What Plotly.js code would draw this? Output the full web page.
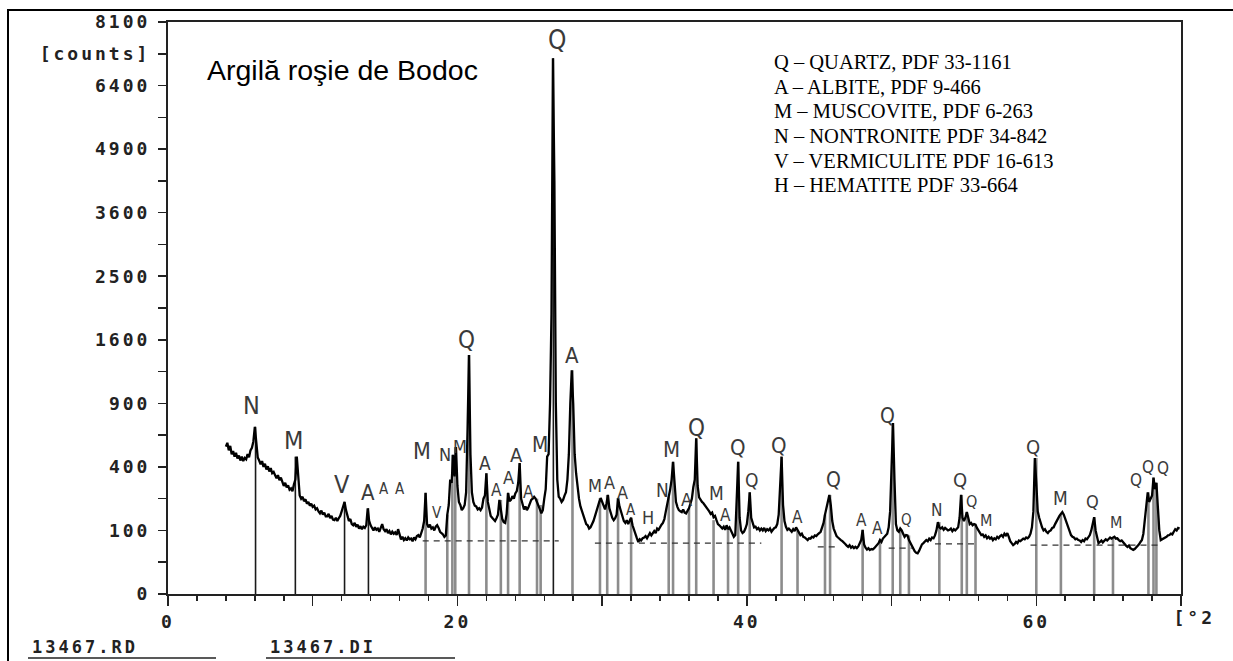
<!DOCTYPE html>
<html>
<head>
<meta charset="utf-8">
<script src="https://cdn.plot.ly/plotly-3.0.1.min.js"></script>
<style>
  html, body { margin: 0; padding: 0; background: #fff; }
  #chart { width: 1233px; height: 661px; }
  .xtick text, .ytick text { letter-spacing: 3px; font-weight: bold !important; }
</style>
</head>
<body>
<div id="chart"></div>
<script>
// ---- Data ----
const twoThetaStart = 4.0;   // first sampled angle (°2θ)
const twoThetaStep = 0.1;    // sampling step (°2θ)
// intensity in counts, one value per step from 4.0 to 69.9 °2θ
const counts = [
  538,566,511,543,484,506,467,493,454,475,
  441,467,437,458,449,484,462,511,529,576,
  692,576,462,441,416,437,400,420,384,404,
  372,392,361,369,346,331,350,320,335,306,
  289,306,282,292,269,276,262,296,324,467,
  306,240,225,234,213,222,202,210,193,202,
  188,193,177,182,169,161,172,156,164,149,
  149,159,142,151,137,135,144,132,142,151,
  169,185,210,174,151,132,139,121,117,125,
  112,119,106,114,104,112,108,117,182,132,
  117,108,100,110,102,106,96,108,121,104,
  98,104,92,98,88,96,90,94,86,104,
  85,74,81,72,77,71,79,74,76,69,
  79,74,83,86,79,90,106,132,253,121,
  110,119,106,110,100,112,117,108,96,92,
  88,81,85,156,196,324,306,480,342,534,
  289,210,196,174,182,196,256,676,1414,484,
  256,210,193,190,177,182,174,185,225,240,
  361,210,169,151,144,139,132,142,156,219,
  169,139,128,125,159,253,213,219,237,225,
  250,262,306,424,225,196,177,190,174,185,
  202,219,225,234,225,210,196,177,161,174,
  225,272,467,484,900,1936,7106,4225,900,324,
  234,225,210,219,240,256,324,484,900,1239,
  900,484,361,282,225,190,169,149,135,121,
  117,106,110,119,132,149,169,196,210,228,
  210,196,177,202,243,182,159,144,135,142,
  156,228,190,169,144,132,125,135,121,130,
  144,117,100,85,77,67,74,71,77,79,
  83,77,86,92,85,94,98,92,106,102,
  112,119,125,139,169,210,234,270,324,433,
  289,210,188,174,169,166,177,164,161,169,
  182,202,225,282,324,600,289,231,219,210,
  204,196,185,177,169,159,164,146,151,135,
  121,117,110,106,112,102,117,104,110,98,
  90,81,86,196,433,144,100,92,96,106,
  121,169,256,144,121,110,112,104,108,100,
  106,100,108,98,104,100,106,96,102,108,
  110,121,156,289,467,196,132,112,102,106,
  100,96,104,98,110,100,92,86,90,81,
  79,74,72,77,76,81,79,85,83,88,
  92,96,110,125,156,182,210,243,196,132,
  106,92,83,79,74,72,69,64,62,58,
  55,59,53,56,52,55,52,56,64,72,
  102,61,53,49,52,48,50,49,52,56,
  61,64,72,67,76,81,85,90,110,169,
  400,724,324,121,100,96,106,100,90,81,
  86,85,72,64,56,49,45,42,41,46,
  56,61,64,69,72,69,76,72,79,77,
  85,100,128,110,106,110,102,108,104,100,
  102,106,98,104,100,106,110,144,243,144,
  132,144,166,144,121,125,117,121,119,108,
  100,92,86,88,81,85,77,81,76,79,
  72,77,74,81,77,83,86,81,90,85,
  92,81,69,64,59,62,67,64,71,69,
  72,76,74,79,77,81,90,110,169,458,
  306,169,144,121,110,100,104,96,92,98,
  100,108,110,121,132,144,151,159,166,156,
  139,121,106,96,86,81,79,74,76,72,
  71,67,72,69,76,74,81,86,100,121,
  146,100,77,64,67,71,66,69,74,71,
  74,79,76,79,81,76,77,72,69,71,
  66,62,58,55,58,52,49,48,50,53,
  58,61,67,72,90,144,210,256,210,225,
  240,335,272,306,169,100,72,74,77,79,
  81,85,86,90,88,96,104,100,108,106
];

// reference lines (sticks) of identified phases
const stickPos = [6.05, 8.8, 12.2, 13.85, 17.8, 19.3, 19.65, 19.85, 20.8, 22.0, 23.0, 23.5, 24.3, 25.5, 25.75, 26.63, 27.95, 29.85, 30.35, 31.1, 32.0, 34.6, 34.9, 36.0, 36.5, 37.7, 38.7, 39.4, 40.2, 42.4, 43.5, 45.4, 45.75, 48.0, 49.2, 50.08, 50.6, 51.2, 53.3, 54.85, 55.2, 55.8, 60.0, 61.7, 64.0, 65.3, 67.75, 68.1, 68.3];
const stickCounts = [692, 467, 210, 182, 253, 156, 480, 534, 1414, 361, 219, 253, 424, 225, 196, 7106, 1239, 228, 243, 228, 144, 234, 433, 182, 600, 135, 110, 433, 256, 467, 98, 156, 243, 102, 72, 724, 106, 85, 128, 243, 166, 119, 458, 159, 146, 76, 256, 335, 306];

// background level segments (dashed)
const bgStart = [17.6, 29.5, 44.9, 49.8, 53.0, 59.6];
const bgEnd = [27.0, 41.0, 46.4, 51.4, 56.0, 68.6];
const bgCounts = [70, 64, 55, 52, 62, 59];

// peak letters
const peakLetter = ["N","M","V","A","A","A","M","V","N","M","Q","A","A","A","A","A","M","Q","A","M","A","A","A","H","N","M","A","Q","M","A","Q","Q","Q","A","Q","A","A","Q","Q","N","Q","Q","M","Q","M","Q","M","Q","Q","Q"];
const peakLetterX = [5.8, 8.7, 12.0, 13.8, 14.9, 16.0, 17.55, 18.6, 19.15, 20.15, 20.65, 21.9, 22.7, 23.5, 24.05, 24.9, 25.7, 26.9, 27.9, 29.5, 30.5, 31.4, 32.0, 33.2, 34.2, 34.8, 35.8, 36.55, 37.9, 38.55, 39.4, 40.3, 42.2, 43.5, 46.0, 47.95, 49.05, 49.7, 51.0, 53.1, 54.7, 55.55, 56.5, 59.8, 61.7, 63.9, 65.5, 66.9, 67.75, 68.75];
const peakLetterCounts = [882, 586, 299, 253, 272, 272, 506, 161, 480, 540, 1600, 424, 269, 335, 480, 256, 548, 7604, 1414, 289, 310, 256, 174, 146, 269, 515, 219, 681, 253, 154, 534, 320, 543, 146, 320, 135, 108, 784, 135, 174, 320, 210, 135, 534, 228, 210, 125, 320, 400, 392];
const peakLetterSize = [25, 25, 25, 22, 15, 15, 23, 15, 18, 18, 24, 19, 17, 18, 20, 17, 21, 26, 22, 18, 18, 18, 15, 18, 19, 22, 18, 24, 19, 17, 22, 19, 22, 17, 21, 17, 17, 21, 15, 17, 20, 16, 16, 20, 19, 18, 16, 17, 17, 17];

// axis labels
const yTickCounts = [0, 100, 400, 900, 1600, 2500, 3600, 4900, 6400, 8100];
const yTickLabels = ["0", "100", "400", "900", "1600", "2500", "3600", "4900", "6400", "8100"];
const yUnitLabel = "[counts]";
const yUnitAt = 7225;
const xTickVals = [0, 10, 20, 30, 40, 50, 60, 70];
const xTickLabels = ["0", "", "20", "", "40", "", "60", ""];
const xUnitLabel = "[°2";

const titleText = "Argilă roşie de Bodoc";
const legendLines = [
  "Q – QUARTZ, PDF 33-1161",
  "A – ALBITE, PDF 9-466",
  "M – MUSCOVITE, PDF 6-263",
  "N – NONTRONITE PDF 34-842",
  "V – VERMICULITE PDF 16-613",
  "H – HEMATITE PDF 33-664"
];
const fileLabels = ["13467.RD", "13467.DI"];

// ---- Build chart ----
const sq = v => Math.sqrt(v);
const monoFont = "DejaVu Sans Mono, Liberation Mono, monospace";

// y axis ticks (square-root scale)
const yTickVals = [], yTickText = [];
for (let i = 0; i < yTickCounts.length; i++) {
  yTickVals.push(sq(yTickCounts[i])); yTickText.push(yTickLabels[i]);
  if (i < yTickCounts.length - 1) {
    const mid = (sq(yTickCounts[i]) + sq(yTickCounts[i + 1])) / 2;
    yTickVals.push(mid);
    yTickText.push(Math.abs(mid * mid - yUnitAt) < 1 ? yUnitLabel : "");
  }
}

const stickDarkX = [], stickDarkY = [], stickGrayX = [], stickGrayY = [];
stickPos.forEach((p, i) => {
  const dark = p < 15 || stickCounts[i] > 5000;
  const X = dark ? stickDarkX : stickGrayX, Y = dark ? stickDarkY : stickGrayY;
  X.push(p, p, null); Y.push(0, sq(stickCounts[i]), null);
});

const bgX = [], bgY = [];
bgStart.forEach((s, i) => { bgX.push(s, bgEnd[i], null); bgY.push(sq(bgCounts[i]), sq(bgCounts[i]), null); });

const traces = [
  { x: stickGrayX, y: stickGrayY, mode: 'lines', line: { color: '#8c8c8c', width: 2.6 }, hoverinfo: 'skip', showlegend: false },
  { x: stickDarkX, y: stickDarkY, mode: 'lines', line: { color: '#1a1a1a', width: 1.6 }, hoverinfo: 'skip', showlegend: false },
  { x: bgX, y: bgY, mode: 'lines', line: { color: '#333', width: 1.3, dash: '6px,5px' }, hoverinfo: 'skip', showlegend: false },
  { x0: twoThetaStart, dx: twoThetaStep, y: counts.map(sq), mode: 'lines', line: { color: '#000', width: 2.3 }, showlegend: false }
];

// plot area in pixels: x 168..1181, y 22..594
const L = 168, R = 1181, T = 22, B = 594;
const px = v => (v - L) / (R - L);
const py = v => (B - v) / (B - T);

const annotations = [];
annotations.push({ xref: 'paper', yref: 'paper', x: px(205), y: py(70), xanchor: 'left', yanchor: 'middle', text: titleText, showarrow: false, font: { family: 'Liberation Sans, Arial, sans-serif', size: 28.5, color: '#000' } });
legendLines.forEach((t, i) => {
  annotations.push({ xref: 'paper', yref: 'paper', x: px(772), y: py(62.2 + 24.6 * i), xanchor: 'left', yanchor: 'middle', text: t, showarrow: false, font: { family: 'Liberation Serif, Times New Roman, serif', size: 20.5, color: '#000' } });
});
peakLetter.forEach((t, i) => {
  annotations.push({ xref: 'x', yref: 'y', x: peakLetterX[i], y: sq(peakLetterCounts[i]), text: t, showarrow: false, xanchor: 'center', yanchor: 'middle', font: { family: 'DejaVu Sans Condensed, DejaVu Sans, sans-serif', size: peakLetterSize[i], color: '#3a3a3a', weight: 300 } });
});
annotations.push({ xref: 'x', yref: 'paper', x: 70, y: py(617), xanchor: 'left', yanchor: 'middle', xshift: -5, text: xUnitLabel, showarrow: false, font: { family: monoFont, size: 18, color: '#222', weight: 'bold' } });
annotations.push({ xref: 'paper', yref: 'paper', x: px(42), y: py(647), xanchor: 'left', yanchor: 'middle', text: fileLabels[0], showarrow: false, font: { family: monoFont, size: 17, color: '#222', weight: 'bold' } });
annotations.push({ xref: 'paper', yref: 'paper', x: px(280), y: py(647), xanchor: 'left', yanchor: 'middle', text: fileLabels[1], showarrow: false, font: { family: monoFont, size: 17, color: '#222', weight: 'bold' } });

const shapes = [
  { type: 'line', xref: 'paper', yref: 'paper', x0: px(28), x1: px(216), y0: py(658), y1: py(658), line: { color: '#222', width: 1.5 } },
  { type: 'line', xref: 'paper', yref: 'paper', x0: px(266), x1: px(455), y0: py(658), y1: py(658), line: { color: '#222', width: 1.5 } },
  { type: 'line', xref: 'paper', yref: 'paper', x0: px(8), x1: px(8), y0: py(9), y1: py(680), line: { color: '#000', width: 2 } },
  { type: 'line', xref: 'paper', yref: 'paper', x0: px(7), x1: px(1240), y0: py(10), y1: py(10), line: { color: '#000', width: 2 } }
];

const layout = {
  width: 1233, height: 661,
  margin: { l: L, r: 1233 - R, t: T, b: 661 - B, pad: 0 },
  paper_bgcolor: '#fff', plot_bgcolor: '#fff',
  showlegend: false,
  xaxis: {
    range: [0, 70], tickmode: 'array', tickvals: xTickVals, ticktext: xTickLabels,
    ticks: 'outside', ticklen: 10, tickwidth: 1.5, tickcolor: '#222',
    minor: { tickmode: 'linear', tick0: 0, dtick: 2, ticks: 'outside', ticklen: 5, tickwidth: 1.5, tickcolor: '#222', showgrid: false },
    showline: true, linecolor: '#222', linewidth: 2, mirror: true,
    showgrid: false, zeroline: false, ticklabelstandoff: 0,
    tickfont: { family: monoFont, size: 18, color: '#222', weight: 'bold' }
  },
  yaxis: {
    range: [0, 90], tickmode: 'array', tickvals: yTickVals, ticktext: yTickText,
    ticks: 'outside', ticklen: 8, tickwidth: 1.5, tickcolor: '#222',
    showline: true, linecolor: '#222', linewidth: 2, mirror: true,
    showgrid: false, zeroline: false, ticklabelstandoff: 4,
    tickfont: { family: monoFont, size: 18, color: '#222', weight: 'bold' }
  },
  annotations: annotations,
  shapes: shapes
};

Plotly.newPlot('chart', traces, layout, { displayModeBar: false, staticPlot: true }).then(() => {
  document.querySelectorAll('.annotation-text').forEach(el => {
    const t = el.textContent;
    if (t.indexOf('13467') === 0 || t === xUnitLabel) el.style.letterSpacing = '3px';
  });
});
</script>
</body>
</html>
